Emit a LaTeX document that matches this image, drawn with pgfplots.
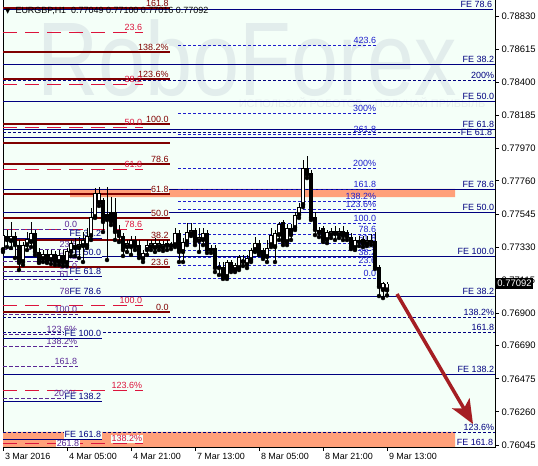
\documentclass[border=0pt]{standalone}
\usepackage{fontspec}
\setmainfont{Liberation Sans}
\newfontfamily\dejavu{DejaVu Sans}
\usepackage{pgfplots}
\pgfplotsset{compat=1.18}
\usepackage{pgfplotstable}
\usetikzlibrary{arrows.meta}

\definecolor{bgc}{RGB}{244,255,248}
\definecolor{wm}{RGB}{226,237,236}
\definecolor{wmt}{RGB}{232,241,239}
\definecolor{maroonc}{RGB}{128,0,0}
\definecolor{crim}{RGB}{220,20,60}
\definecolor{navyc}{RGB}{0,0,128}
\definecolor{bluec}{RGB}{30,30,205}
\definecolor{purp}{RGB}{90,40,150}
\definecolor{salm}{RGB}{255,160,122}
\definecolor{arrowc}{RGB}{165,30,35}

\tikzset{
 mar/.style={color=maroonc, line width=1.6bp},
 rdd/.style={color=crim, line width=0.8bp, dash pattern=on 14bp off 8bp},
 pud/.style={color=purp, line width=0.8bp, dash pattern=on 4bp off 2bp},
 nvs/.style={color=navyc, line width=0.8bp},
 nvd/.style={color=navyc, line width=0.8bp, dash pattern=on 3bp off 2bp},
 bld/.style={color=bluec, line width=0.8bp, dash pattern=on 3bp off 2bp},
 lbl/.style={font=\fontsize{9}{10}\selectfont, inner sep=0.6bp},
}
\newcommand{\lv}[6][]{\addplot[#2] coordinates {(#3,#5) (#4,#5)};
 \node[lbl,#2,solid,anchor=south east,#1] at (axis cs:#4,#5) {#6};}

\pgfplotstableread{
x o h l c
3 0.77311 0.77454 0.77298 0.77408
11 0.77369 0.77493 0.77324 0.77402
23 0.77233 0.77363 0.77214 0.77343
27 0.77343 0.77428 0.77311 0.77382
31 0.77363 0.77493 0.77330 0.77421
43 0.77253 0.77311 0.77233 0.77285
51 0.77246 0.77311 0.77220 0.77285
59 0.77233 0.77311 0.77214 0.77279
67 0.77227 0.77324 0.77207 0.77305
71 0.77298 0.77376 0.77272 0.77356
79 0.77324 0.77395 0.77259 0.77350
83 0.77337 0.77428 0.77233 0.77376
87 0.77337 0.77454 0.77324 0.77402
91 0.77402 0.77584 0.77376 0.77525
95 0.77525 0.77714 0.77519 0.77681
99 0.77616 0.77720 0.77597 0.77681
127 0.77330 0.77376 0.77298 0.77356
131 0.77330 0.77402 0.77279 0.77376
143 0.77253 0.77311 0.77233 0.77292
147 0.77311 0.77376 0.77279 0.77343
151 0.77330 0.77376 0.77311 0.77356
155 0.77324 0.77389 0.77298 0.77356
159 0.77330 0.77376 0.77311 0.77356
163 0.77324 0.77369 0.77305 0.77350
171 0.77337 0.77363 0.77317 0.77350
175 0.77343 0.77454 0.77330 0.77421
183 0.77298 0.77389 0.77233 0.77363
187 0.77363 0.77486 0.77343 0.77428
191 0.77415 0.77486 0.77402 0.77441
199 0.77369 0.77454 0.77298 0.77395
203 0.77376 0.77454 0.77343 0.77421
227 0.77136 0.77246 0.77123 0.77233
235 0.77181 0.77227 0.77168 0.77214
239 0.77194 0.77279 0.77181 0.77266
243 0.77233 0.77279 0.77207 0.77246
247 0.77214 0.77279 0.77194 0.77259
251 0.77246 0.77324 0.77233 0.77311
255 0.77311 0.77395 0.77298 0.77356
267 0.77266 0.77376 0.77233 0.77324
271 0.77343 0.77454 0.77330 0.77408
275 0.77330 0.77441 0.77233 0.77421
279 0.77408 0.77493 0.77376 0.77480
287 0.77363 0.77480 0.77343 0.77454
295 0.77454 0.77558 0.77441 0.77538
299 0.77538 0.77616 0.77519 0.77590
303 0.77603 0.77895 0.77590 0.77843
327 0.77376 0.77441 0.77356 0.77428
331 0.77408 0.77454 0.77389 0.77434
335 0.77415 0.77467 0.77376 0.77434
339 0.77408 0.77454 0.77389 0.77434
355 0.77324 0.77395 0.77311 0.77376
367 0.77350 0.77402 0.77337 0.77376
383 0.77051 0.77103 0.76999 0.77097
387 0.77049 0.77100 0.77016 0.77092
}\bull

\pgfplotstableread{
x o h l c
7 0.77402 0.77441 0.77330 0.77376
15 0.77402 0.77428 0.77259 0.77343
19 0.77343 0.77376 0.77181 0.77227
35 0.77421 0.77441 0.77279 0.77298
39 0.77298 0.77324 0.77227 0.77233
47 0.77285 0.77311 0.77227 0.77233
55 0.77285 0.77305 0.77214 0.77233
63 0.77279 0.77311 0.77207 0.77227
75 0.77343 0.77389 0.77272 0.77324
103 0.77636 0.77649 0.77428 0.77493
107 0.77545 0.77720 0.77246 0.77506
111 0.77558 0.77655 0.77473 0.77493
115 0.77558 0.77649 0.77376 0.77428
119 0.77441 0.77473 0.77363 0.77402
123 0.77402 0.77421 0.77272 0.77311
135 0.77376 0.77402 0.77311 0.77330
139 0.77343 0.77376 0.77259 0.77279
167 0.77356 0.77376 0.77311 0.77337
179 0.77421 0.77441 0.77233 0.77298
195 0.77441 0.77454 0.77343 0.77363
207 0.77421 0.77441 0.77292 0.77311
211 0.77324 0.77343 0.77292 0.77311
215 0.77324 0.77343 0.77168 0.77194
219 0.77207 0.77233 0.77149 0.77194
223 0.77201 0.77233 0.77123 0.77136
231 0.77233 0.77246 0.77168 0.77181
259 0.77356 0.77376 0.77279 0.77292
263 0.77311 0.77324 0.77253 0.77266
283 0.77493 0.77506 0.77343 0.77363
291 0.77454 0.77480 0.77376 0.77408
307 0.77843 0.77921 0.77778 0.77798
311 0.77811 0.77830 0.77506 0.77519
315 0.77525 0.77558 0.77408 0.77441
319 0.77441 0.77460 0.77395 0.77421
323 0.77454 0.77467 0.77363 0.77376
343 0.77434 0.77467 0.77376 0.77402
347 0.77428 0.77441 0.77376 0.77395
351 0.77395 0.77421 0.77317 0.77330
359 0.77376 0.77402 0.77337 0.77363
363 0.77382 0.77402 0.77330 0.77350
371 0.77376 0.77415 0.77343 0.77363
375 0.77369 0.77428 0.77188 0.77201
379 0.77201 0.77214 0.77012 0.77071
}\bear

\begin{document}
\begin{tikzpicture}
\fill[white] (-3bp,-19bp) rectangle (535bp,447bp);
\begin{axis}[
 at={(0,0)}, anchor=south west,
 scale only axis, width=492bp, height=448bp,
 xmin=3, xmax=495, ymin=0.76032, ymax=0.789405,
 enlargelimits=false, clip mode=individual,
 axis background/.style={fill=bgc},
 axis line style={black, line width=0.8bp},
 tick align=outside, major tick length=4bp,
 tick style={black, line width=0.8bp},
 xtick pos=bottom, ytick pos=right, yticklabel pos=right,
 scaled y ticks=false,
 xtick={3,67,131,195,259,323,387},
 xticklabels={3 Mar 2016,4 Mar 05:00,4 Mar 21:00,7 Mar 13:00,8 Mar 05:00,8 Mar 21:00,9 Mar 13:00},
 xticklabel style={anchor=north west, xshift=-1.5bp, yshift=1bp, font=\fontsize{9}{10}\selectfont},
 ytick={0.78830,0.78615,0.78400,0.78185,0.77970,0.77760,0.77545,0.77330,0.77115,0.76900,0.76690,0.76475,0.76260,0.76045},
 yticklabels={0.78830,0.78615,0.78400,0.78185,0.77970,0.77760,0.77545,0.77330,0.77115,0.76900,0.76690,0.76475,0.76260,0.76045},
 yticklabel style={font=\fontsize{9.5}{10}\selectfont, xshift=-1bp},
]
% watermark
\node[font=\fontsize{105}{105}\selectfont, text=wm, xscale=0.81, anchor=base] at (axis cs:247,0.78317) {RoboForex};
\node[font=\fontsize{11}{12}\selectfont, text=wmt] at (axis cs:362,0.78265) {ИСПОЛЬЗУЙ РОБОТОВ – ПОЛУЧАЙ ПРИБЫЛЬ};

% salmon bands
\addplot[fill=salm, draw=none] coordinates {(70,0.77707) (455,0.77707) (455,0.77655) (70,0.77655) (70,0.77707)};
\addplot[fill=salm, draw=none] coordinates {(3,0.76130) (455,0.76130) (455,0.76032) (3,0.76032) (3,0.76130)};

% navy full-width solid
\lv{nvs}{3}{493}{0.78876}{FE 78.6}
\lv{nvs}{3}{495}{0.78519}{FE 38.2}
\lv{nvs}{3}{495}{0.78278}{FE 50.0}
\lv{nvs}{3}{495}{0.78097}{FE 61.8}
\lv{nvs}{3}{495}{0.78045}{}
\lv{nvs}{3}{495}{0.77707}{FE 78.6}
\lv{nvs}{3}{495}{0.77558}{FE 50.0}
\lv{nvs}{3}{495}{0.77272}{FE 100.0}
\lv{nvs}{3}{495}{0.77012}{FE 38.2}
\lv{nvs}{3}{495}{0.76506}{FE 138.2}
% navy full-width dashed
\lv{nvd}{3}{495}{0.78415}{200\%}
\addplot[nvd] coordinates {(3,0.78077) (460,0.78077)};
\node[lbl,color=navyc,anchor=east] at (axis cs:493,0.78077) {FE 61.8};
\lv{nvd}{3}{495}{0.76876}{138.2\%}
\lv{nvd}{3}{495}{0.76779}{161.8}
\lv{nvd}{3}{495}{0.76130}{123.6\%}

% middle blue dashed fibonacci
\lv{bld}{178}{377}{0.78642}{423.6}
\lv{bld}{178}{377}{0.78200}{300\%}
\lv{bld}{178}{377}{0.78064}{261.8}
\lv{bld}{178}{377}{0.77843}{200\%}
\lv{bld}{178}{377}{0.77707}{161.8}
\lv{bld}{178}{377}{0.77629}{138.2\%}
\lv{bld}{178}{377}{0.77577}{123.6\%}
\lv{bld}{178}{377}{0.77486}{100.0}
\lv{bld}{178}{377}{0.77415}{78.6}
\lv{bld}{178}{377}{0.77356}{61.8}
\lv{bld}{178}{377}{0.77311}{50.0}
\lv{bld}{178}{377}{0.77266}{38.2}
\lv{bld}{178}{377}{0.77214}{23.6}
\lv{bld}{178}{377}{0.77129}{0.0}

% maroon solid
\lv[fill=bgc]{mar}{3}{170}{0.78882}{161.8}
\lv[fill=bgc]{mar}{3}{170}{0.78596}{138.2\%}
\lv[fill=bgc]{mar}{3}{170}{0.78421}{123.6\%}
\lv[fill=bgc]{mar}{3}{170}{0.78129}{100.0}
\lv{mar}{3}{170}{0.78006}{}
\lv[fill=bgc]{mar}{3}{170}{0.77869}{78.6}
\lv[fill=bgc]{mar}{3}{170}{0.77675}{61.8}
\lv[fill=bgc]{mar}{3}{170}{0.77519}{50.0}
\lv[fill=bgc]{mar}{3}{170}{0.77376}{38.2}
\lv[fill=bgc]{mar}{3}{170}{0.77201}{23.6}
\lv[fill=bgc]{mar}{3}{170}{0.76909}{0.0}

% red dashed
\lv{rdd}{3}{143}{0.78726}{23.6}
\lv{rdd}{3}{143}{0.78389}{38.2}
\lv{rdd}{3}{143}{0.78110}{50.0}
\lv{rdd}{3}{143}{0.77837}{61.8}
\lv{rdd}{3}{143}{0.77447}{78.6}
\lv{rdd}{3}{143}{0.76954}{100.0}
\lv{rdd}{3}{143}{0.76402}{123.6\%}
\lv[fill=bgc]{rdd}{3}{143}{0.76058}{138.2\%}

% purple dashed
\lv{pud}{3}{78}{0.77447}{0.0}
\lv{pud}{3}{78}{0.77317}{23.6}
\lv{pud}{3}{78}{0.77240}{38.2}
\lv{pud}{3}{78}{0.77175}{50.0}
\lv{pud}{3}{78}{0.77123}{61.8}
\lv{pud}{3}{78}{0.77012}{78.6}
\lv{pud}{3}{78}{0.76896}{100.0}
\lv{pud}{3}{78}{0.76766}{123.6\%}
\lv{pud}{3}{78}{0.76688}{138.2\%}
\lv{pud}{3}{78}{0.76558}{161.8}
\lv{pud}{3}{78}{0.76350}{200\%}
\node[lbl,color=purp,fill=white,anchor=south east] at (axis cs:80,0.76032) {261.8};

% navy left FE set
\lv[fill=bgc]{nvs}{3}{102}{0.77389}{FE 38.2}
\lv[fill=bgc]{nvs}{3}{102}{0.77266}{FE 50.0}
\lv[fill=bgc]{nvs}{3}{102}{0.77142}{FE 61.8}
\lv[fill=bgc]{nvs}{3}{102}{0.77012}{FE 78.6}
\lv[fill=bgc]{nvs}{3}{102}{0.76740}{FE 100.0}
\lv[fill=bgc]{nvs}{3}{102}{0.76331}{FE 138.2}
\lv[fill=bgc]{nvs}{3}{102}{0.76084}{FE 161.8}
\node[lbl,color=navyc,fill=white,anchor=south east] at (axis cs:494,0.76036) {FE 161.8};

% candles: wicks
\addplot[only marks, mark=none, error bars/.cd, y dir=plus, y explicit, error mark=none,
 error bar style={draw=black, line width=0.9bp, solid}]
 table[x=x, y=l, y error plus expr={\thisrow{h}-\thisrow{l}}] {\bull};
\addplot[only marks, mark=none, error bars/.cd, y dir=plus, y explicit, error mark=none,
 error bar style={draw=black, line width=0.9bp, solid}]
 table[x=x, y=l, y error plus expr={\thisrow{h}-\thisrow{l}}] {\bear};
% bodies
\addplot[only marks, mark=none, error bars/.cd, y dir=plus, y explicit, error mark=none,
 error bar style={draw=black, line width=3.2bp, solid}]
 table[x=x, y=c, y error plus expr={\thisrow{o}-\thisrow{c}}] {\bear};
\addplot[only marks, mark=none, error bars/.cd, y dir=plus, y explicit, error mark=none,
 error bar style={draw=black, line width=3.2bp, solid}]
 table[x=x, y=o, y error plus expr={\thisrow{c}-\thisrow{o}}] {\bull};
\addplot[only marks, mark=none, error bars/.cd, y dir=plus, y explicit, error mark=none,
 error bar style={draw=white, line width=1.5bp, solid}]
 table[x=x, y expr={\thisrow{o}+0.00005}, y error plus expr={max(\thisrow{c}-\thisrow{o}-0.0001,0)}] {\bull};

% arrow
\addplot[arrowc, line width=3.5bp, -{Stealth[length=24bp, width=20bp, inset=6bp]}] coordinates {(397,0.77025) (473,0.76181)};

% title
\node[anchor=west, font=\fontsize{9}{10}\selectfont, inner sep=0] at (axis cs:5,0.78865) {{\dejavu\fontsize{7}{8}\selectfont ▼}\ \ EURGBP,H1\ \ 0.77049 0.77100 0.77016 0.77092};

% current price box
\node[anchor=west, fill=black, text=white, font=\fontsize{9.5}{10}\selectfont, inner sep=1.2bp, minimum height=11bp] at (axis cs:496,0.77092) {0.77092};
\end{axis}
\pgfresetboundingbox
\path[use as bounding box] (-3bp,-19bp) rectangle (535bp,447bp);
\end{tikzpicture}
\end{document}
